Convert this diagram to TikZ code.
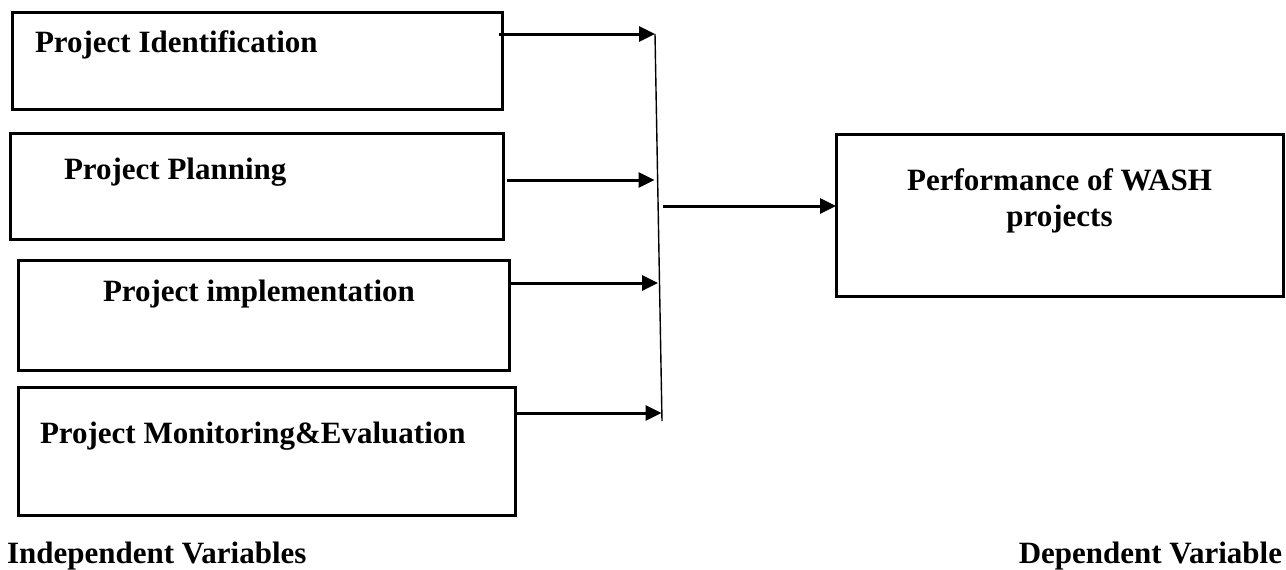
\documentclass[tikz,border=0pt]{standalone}
\usepackage{fontspec}
\setmainfont{Liberation Serif}
\usetikzlibrary{arrows.meta}
\tikzset{
  box/.style={draw=black, line width=3pt, inner sep=0pt, outer sep=0pt, anchor=north west},
  lbl/.style={inner sep=0pt, outer sep=0pt, font=\fontsize{31}{36}\selectfont\bfseries},
  conn/.style={line width=3pt, -{Triangle[length=16pt,width=15pt]}},
  bar/.style={line width=1.4pt}
}
\begin{document}
\begin{tikzpicture}[x=1pt,y=-1pt]
\useasboundingbox (0,0) rectangle (1286,570);
% boxes
\node[box, minimum width=490pt, minimum height=97pt] (b1) at (12.7,12) {};
\node[box, minimum width=493pt, minimum height=106pt] (b2) at (10,133) {};
\node[box, minimum width=491pt, minimum height=110pt] (b3) at (18,260) {};
\node[box, minimum width=497pt, minimum height=128pt] (b4) at (18,387) {};
\node[box, minimum width=447pt, minimum height=162pt] (r) at (836,134) {};
% texts
\node[lbl, anchor=base west] (t1) at (35,52) {Project Identification};
\node[lbl, anchor=base west] (t2) at (64,179) {Project Planning};
\node[lbl, anchor=base west] (t3) at (103,301) {Project implementation};
\node[lbl, anchor=base west] (t4) at (40,443) {Project Monitoring\&Evaluation};
\node[lbl, anchor=base] (tr1) at (1059.5,190) {Performance of WASH};
\node[lbl, anchor=base] (tr2) at (1059.5,226) {projects};
\node[lbl, anchor=base west] (iv) at (7,563) {Independent Variables};
\node[lbl, anchor=base east] (dv) at (1282,563) {Dependent Variable};
% connector points
\coordinate (s1) at (499,34);
\coordinate (e1) at (655,34);
\coordinate (s2) at (507,180);
\coordinate (e2) at (654.5,180);
\coordinate (s3) at (511,283);
\coordinate (e3) at (658,283);
\coordinate (s4) at (515,413);
\coordinate (e4) at (661.5,413);
\coordinate (vtop) at (655,34);
\coordinate (vbot) at (662,421);
\coordinate (m) at (663,206);
% connectors
\draw[bar] (vtop) -- (vbot);
\draw[conn] (s1) -- (e1);
\draw[conn] (s2) -- (e2);
\draw[conn] (s3) -- (e3);
\draw[conn] (s4) -- (e4);
\draw[conn] (m) -- (r.west |- m);
\end{tikzpicture}
\end{document}
